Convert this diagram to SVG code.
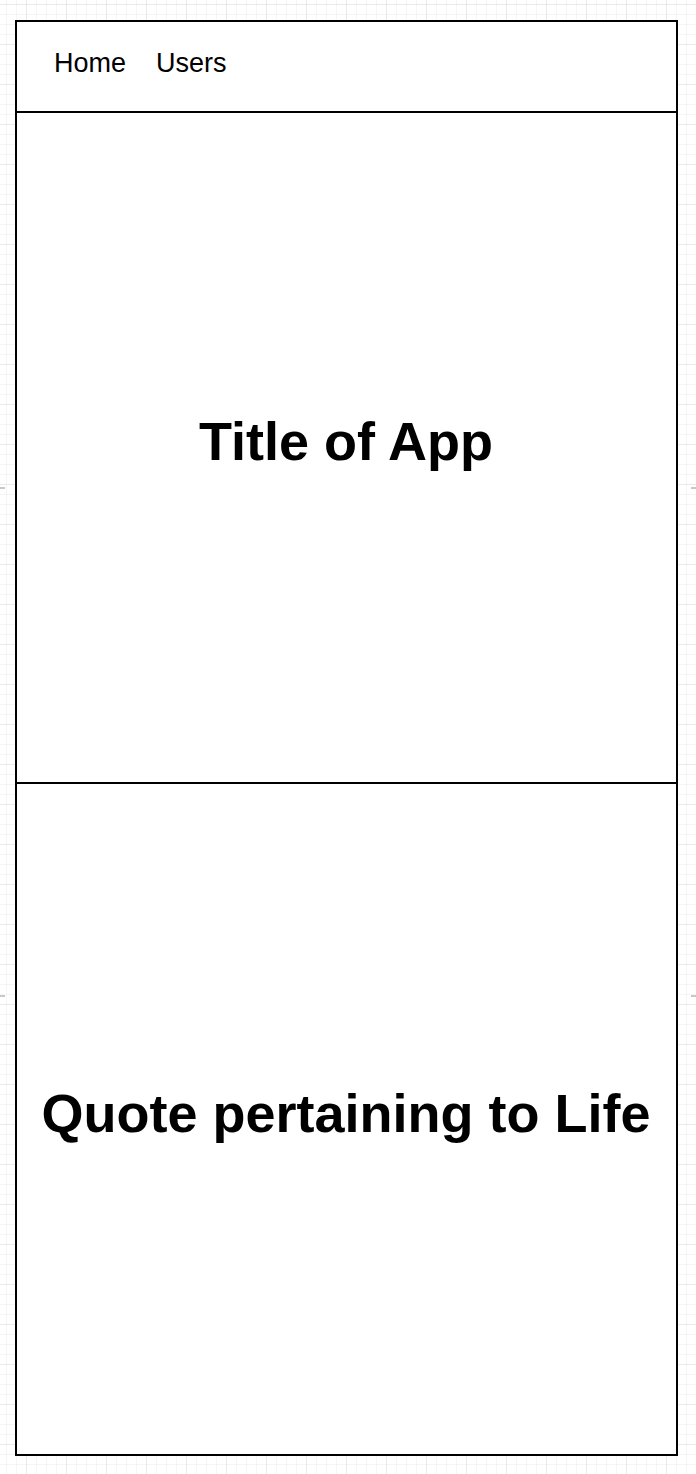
<svg xmlns="http://www.w3.org/2000/svg" width="696" height="1474" viewBox="0 0 696 1474">
<defs>
<pattern id="minor" x="6" y="4" width="10" height="10" patternUnits="userSpaceOnUse">
<path d="M0 0H10M0 0V10" fill="none" stroke="#ececec" stroke-width="1"/>
</pattern>
<pattern id="major" x="26" y="4" width="40" height="40" patternUnits="userSpaceOnUse">
<path d="M0 0H40M0 0V40" fill="none" stroke="#e0e0e0" stroke-width="1"/>
</pattern>
<style>
.frame{fill:#fff;stroke:#000;stroke-width:2}
.line{stroke:#000;stroke-width:2}
.nav{font-family:"Liberation Sans",Arial,sans-serif;font-size:27px;fill:#000}
.big{font-family:"Liberation Sans",Arial,sans-serif;font-size:54px;font-weight:bold;fill:#000;text-anchor:middle}
.pb{stroke:#c8c8c8;stroke-width:2}
</style>
</defs>
<rect width="696" height="1474" fill="#fff"/>
<rect width="696" height="1474" fill="url(#minor)"/>
<rect width="696" height="1474" fill="url(#major)"/>
<g id="pagebreaks">
<line class="pb" x1="0" y1="488" x2="5" y2="488"/>
<line class="pb" x1="691" y1="488" x2="696" y2="488"/>
<line class="pb" x1="0" y1="996" x2="5" y2="996"/>
<line class="pb" x1="691" y1="996" x2="696" y2="996"/>
</g>
<g id="frame">
<rect class="frame" x="16" y="21" width="661" height="1434"/>
</g>
<g id="header">
<line class="line" x1="16" y1="112" x2="677" y2="112"/>
<text class="nav" x="54" y="72">Home</text>
<text class="nav" x="156" y="72">Users</text>
</g>
<g id="title-section">
<text class="big" x="346" y="460">Title of App</text>
</g>
<g id="quote-section">
<line class="line" x1="16" y1="783" x2="677" y2="783"/>
<text class="big" x="346" y="1132">Quote pertaining to Life</text>
</g>
<g id="connectors"/>
</svg>
